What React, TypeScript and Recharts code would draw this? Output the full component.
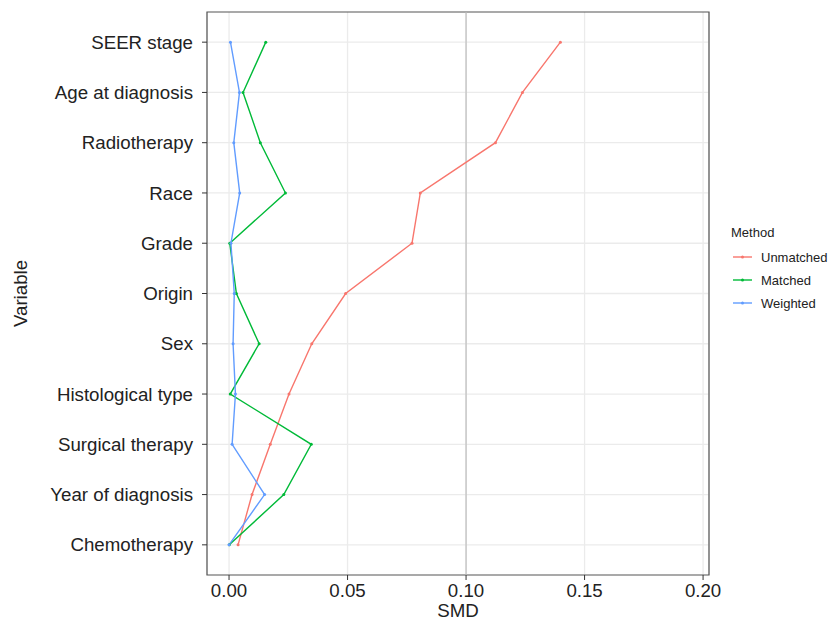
import React from 'react';
import {
  LineChart,
  Line,
  XAxis,
  YAxis,
  CartesianGrid,
  ReferenceLine,
  ReferenceArea,
} from 'recharts';

const variables = [
  'SEER stage',
  'Age at diagnosis',
  'Radiotherapy',
  'Race',
  'Grade',
  'Origin',
  'Sex',
  'Histological type',
  'Surgical therapy',
  'Year of diagnosis',
  'Chemotherapy',
];

const unmatched = [0.1398, 0.1238, 0.1124, 0.0807, 0.0772, 0.0492, 0.0349, 0.0253, 0.0174, 0.0097, 0.0038];
const matched = [0.0155, 0.0059, 0.0132, 0.0238, 0.0003, 0.0031, 0.0127, 0.0005, 0.0347, 0.0231, 0.0001];
const weighted = [0.0006, 0.0044, 0.002, 0.0045, 0.0008, 0.0022, 0.0017, 0.0027, 0.0013, 0.015, 0.0];

const majorTicks = [0, 0.05, 0.1, 0.15, 0.2];
const minorTicks = [0.025, 0.075, 0.125, 0.175];

const methods = [
  { key: 'unmatched', label: 'Unmatched', color: '#F8766D' },
  { key: 'matched', label: 'Matched', color: '#00BA38' },
  { key: 'weighted', label: 'Weighted', color: '#619CFF' },
];

const data = variables.map((v, i) => ({
  idx: i,
  variable: v,
  unmatched: unmatched[i],
  matched: matched[i],
  weighted: weighted[i],
}));

const rowTicks = variables.map((_, i) => i);

// ggplot-like expansion: 5% on the continuous axis, 0.6 units on the discrete one
const xDomain: [number, number] = [-0.0093, 0.2025];
const yDomain: [number, number] = [-0.6, variables.length - 1 + 0.6];

const font = "'Liberation Sans', Arial, Helvetica, sans-serif";
const textColor = '#222';
const borderColor = '#555';

function MethodLegend() {
  return (
    <svg
      width={104}
      height={100}
      style={{ position: 'absolute', left: 725, top: 220, fontFamily: font }}
    >
      <text x={6} y={17} fontSize={13} fill={textColor}>
        Method
      </text>
      {methods.map((m, i) => {
        const cy = 37 + i * 23;
        return (
          <g key={m.key}>
            <line x1={8} x2={27} y1={cy} y2={cy} stroke={m.color} strokeWidth={1.4} />
            <circle cx={17.5} cy={cy} r={1.5} fill={m.color} />
            <text x={36} y={cy + 4.6} fontSize={13} fill={textColor}>
              {m.label}
            </text>
          </g>
        );
      })}
    </svg>
  );
}

export default function App() {
  return (
    <div style={{ position: 'absolute', left: 0, top: 0, width: 829, height: 621, background: '#fff' }}>
      <LineChart
        width={829}
        height={621}
        data={data}
        layout="vertical"
        margin={{ top: 12, right: 120, left: 0, bottom: 0 }}
        style={{ fontFamily: font }}
      >
        <CartesianGrid xAxisId="minor" stroke="#EBEBEB" strokeWidth={0.8} horizontal={false} />
        <CartesianGrid stroke="#EBEBEB" strokeWidth={1.3} horizontalValues={rowTicks} />
        <XAxis
          type="number"
          domain={xDomain}
          ticks={majorTicks}
          tickFormatter={(v: number) => v.toFixed(2)}
          allowDataOverflow
          height={46}
          tickSize={5}
          tickMargin={4}
          tick={{ fontSize: 18.7, fill: textColor }}
          tickLine={{ stroke: '#333' }}
          axisLine={false}
          label={{ value: 'SMD', position: 'insideBottom', offset: 4, fontSize: 18.7, fill: textColor }}
        />
        <XAxis
          xAxisId="minor"
          orientation="top"
          type="number"
          domain={xDomain}
          ticks={minorTicks}
          allowDataOverflow
          height={0}
          tick={false}
          tickLine={false}
          axisLine={false}
        />
        <YAxis
          type="number"
          dataKey="idx"
          domain={yDomain}
          ticks={rowTicks}
          allowDataOverflow
          width={207}
          tickSize={5}
          tickMargin={9}
          interval={0}
          tickFormatter={(i: number) => variables[i] ?? ''}
          tick={{ fontSize: 18.7, fill: textColor }}
          tickLine={{ stroke: '#333' }}
          axisLine={false}
          label={{
            value: 'Variable',
            angle: -90,
            position: 'insideLeft',
            offset: 20,
            fontSize: 18.7,
            fill: textColor,
            style: { textAnchor: 'middle' },
          }}
        />
        <ReferenceLine x={0.1} stroke="#BDBDBD" strokeWidth={1.2} />
        {methods.map((m) => (
          <Line
            key={m.key}
            dataKey={m.key}
            name={m.label}
            type="linear"
            stroke={m.color}
            strokeWidth={1.4}
            dot={{ r: 1.5, fill: m.color, stroke: 'none' }}
            activeDot={false}
            isAnimationActive={false}
          />
        ))}
        <ReferenceArea
          x1={xDomain[0]}
          x2={xDomain[1]}
          y1={yDomain[0]}
          y2={yDomain[1]}
          fill="none"
          fillOpacity={0}
          stroke={borderColor}
          strokeWidth={1.2}
          ifOverflow="visible"
        />
      </LineChart>
      <MethodLegend />
    </div>
  );
}
